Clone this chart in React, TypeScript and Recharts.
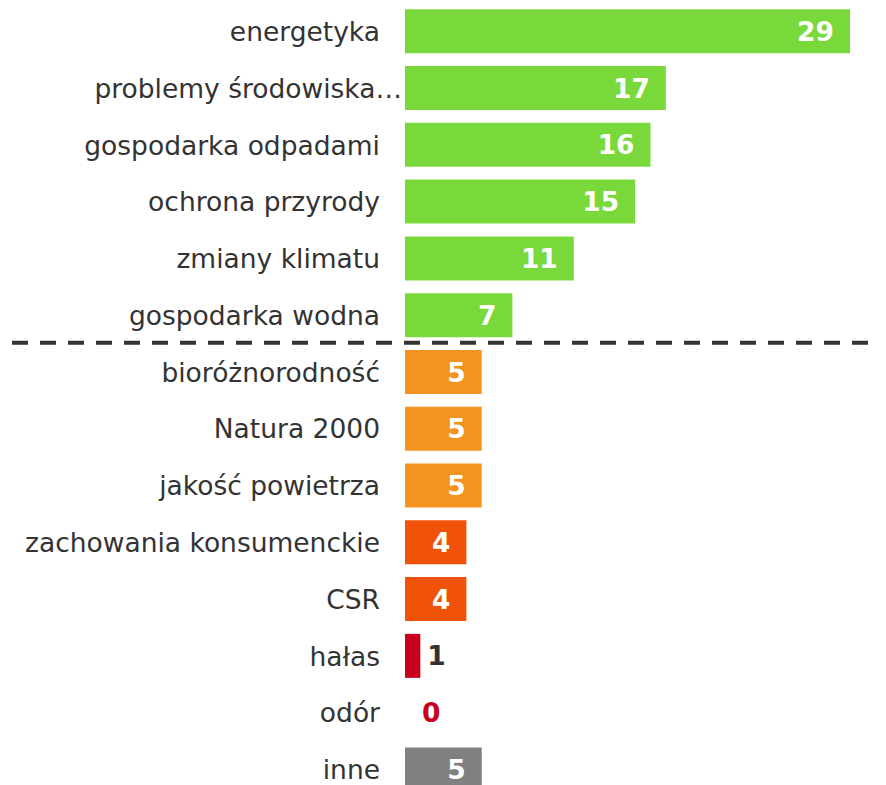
import { BarChart, Bar, XAxis, YAxis, Cell, LabelList } from 'recharts'

// Topics and number of mentions
const topics = [
  'energetyka',
  'problemy środowiska…',
  'gospodarka odpadami',
  'ochrona przyrody',
  'zmiany klimatu',
  'gospodarka wodna',
  'bioróżnorodność',
  'Natura 2000',
  'jakość powietrza',
  'zachowania konsumenckie',
  'CSR',
  'hałas',
  'odór',
  'inne',
]
const counts = [29, 17, 16, 15, 11, 7, 5, 5, 5, 4, 4, 1, 0, 5]
// colour group of each topic
const groups = ['top', 'top', 'top', 'top', 'top', 'top', 'mid', 'mid', 'mid', 'low', 'low', 'min', 'min', 'other']

const groupColors: Record<string, string> = {
  top: '#7AD93A',
  mid: '#F59320',
  low: '#F0520A',
  min: '#C8001E',
  other: '#808080',
}

const data = topics.map((name, i) => ({ name, value: counts[i], group: groups[i] }))

const FONT = 'Verdana, "DejaVu Sans", sans-serif'
const FS = 26.5

const Tick = (props: any) => {
  const { x, y, payload } = props
  const i = payload.index
  const lineY = y - payload.offset - 1
  // truncated labels overhang the usual right edge a bit
  const dx = String(payload.value).endsWith('…') ? 22 : 0
  return (
    <g>
      {i === 6 && (
        <line x1={12} x2={886} y1={lineY} y2={lineY} stroke="#333" strokeWidth={4} strokeDasharray="16 12" />
      )}
      <text x={x + dx} y={y} dy="0.36em" textAnchor="end" fontSize={FS} fill="#333" fontFamily={FONT}>
        {payload.value}
      </text>
      {/* zero-width bars get no label from LabelList, so draw it here */}
      {counts[i] === 0 && (
        <text
          x={x + 25 + 17}
          y={y}
          dy="0.36em"
          fontSize={FS}
          fontWeight="bold"
          fill={groupColors[groups[i]]}
          fontFamily={FONT}
        >
          0
        </text>
      )}
    </g>
  )
}

const ValueLabel = (props: any) => {
  const { x, y, width, height, value } = props
  if (!value) return null
  const small = value < 2
  return (
    <text
      x={small ? x + width + 7 : x + width - 16}
      y={y + height / 2}
      dy="0.36em"
      textAnchor={small ? 'start' : 'end'}
      fontSize={FS}
      fontWeight="bold"
      fill={small ? '#333' : '#fff'}
      fontFamily={FONT}
    >
      {value}
    </text>
  )
}

const App = () => {
  return (
    <div style={{ margin: -8, background: '#fff' }}>
      <BarChart
        width={886}
        height={800}
        data={data}
        layout="vertical"
        margin={{ top: 3, right: 36, bottom: 2, left: 0 }}
        barCategoryGap="11%"
      >
        <XAxis type="number" domain={[0, 29]} hide />
        <YAxis
          type="category"
          dataKey="name"
          width={405}
          axisLine={false}
          tickLine={false}
          tickSize={0}
          tickMargin={25}
          interval={0}
          tick={<Tick />}
        />
        <Bar dataKey="value" isAnimationActive={false}>
          {data.map((d, i) => (
            <Cell key={i} fill={groupColors[d.group]} />
          ))}
          <LabelList dataKey="value" content={<ValueLabel />} />
        </Bar>
      </BarChart>
    </div>
  )
}

export default App
